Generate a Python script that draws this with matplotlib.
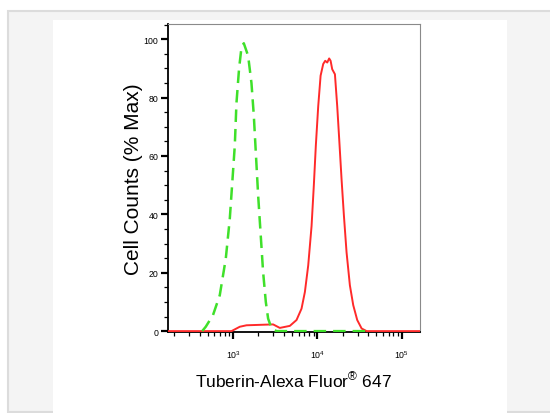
import matplotlib
matplotlib.use("Agg")
import matplotlib.pyplot as plt
from matplotlib.patches import Rectangle
from matplotlib.ticker import LogLocator, MultipleLocator, NullFormatter

plt.rcParams['font.family'] = ['Liberation Sans', 'DejaVu Sans']
plt.rcParams['mathtext.fontset'] = 'custom'
plt.rcParams['mathtext.rm'] = 'Liberation Sans'
plt.rcParams['mathtext.it'] = 'Liberation Sans:italic'
plt.rcParams['mathtext.bf'] = 'Liberation Sans:bold'

# control (isotype) histogram, green dashed
ctrl_x = [430, 474, 578, 695, 819, 914, 984, 1048, 1096, 1178, 1256, 1340,
          1508, 1652, 1762, 1862, 1983, 2115, 2270, 2445, 2604, 2856, 3273, 40000]
ctrl_y = [0, 1.5, 5.5, 12.3, 24.8, 38.5, 52, 63.6, 78, 90, 97, 98.6,
          94.3, 85, 73.8, 61, 46.5, 34, 20.3, 10, 4.3, 1, 0, 0]

# Tuberin stained sample, red solid
tub_x = [169, 957, 1201, 1443, 2987, 3586, 4714, 5657, 6487, 7109, 7786, 8532,
         9080, 9590, 10230, 10920, 11730, 12390, 13090, 13800, 14350, 15000,
         16150, 17200, 18150, 19360, 20640, 22190, 24300, 26630, 29700, 33500,
         38400, 165000]
tub_y = [0, 0, 1.5, 2, 2.3, 1.1, 1.8, 3.8, 7.7, 13.4, 22.5, 36,
         50, 63.6, 77, 87.5, 91.5, 92.6, 92, 93.4, 92.6, 89.7,
         88, 77, 65.8, 52, 39.6, 27, 15.7, 8.9, 3.8, 0.9,
         0, 0]

fig = plt.figure(figsize=(5.5, 4.14), dpi=100)
fig.patch.set_facecolor('white')

# page-like background panels
fig.patches.append(Rectangle((7.7 / 550, 1 - 413 / 414), 1.1, (413 - 12.3) / 414,
                             transform=fig.transFigure, facecolor='#f4f4f4',
                             edgecolor='#dcdcdc', linewidth=1.5, zorder=-2))
fig.patches.append(Rectangle((52.6 / 550, -0.05), (507 - 52.6) / 550, 0.05 + 1 - 20 / 414 - 0.003,
                             transform=fig.transFigure, facecolor='white',
                             edgecolor='none', zorder=-1))

ax = fig.add_axes([168 / 550, 1 - 333 / 414, (420 - 168) / 550, (333 - 25) / 414])
ax.set_zorder(5)
ax.set_facecolor('white')

ax.plot(tub_x, tub_y, color='#ff2a2a', linewidth=1.4, zorder=3)
ax.plot(ctrl_x, ctrl_y, color='#3fe02a', linewidth=1.8, linestyle=(0, (5, 2.8)), zorder=3)

ax.set_xscale('log')
ax.set_xlim(169, 165000)
ax.set_ylim(-0.3, 105.2)

ax.xaxis.set_major_locator(LogLocator(base=10, subs=(1.0,)))
ax.xaxis.set_minor_locator(LogLocator(base=10, subs=range(2, 10)))
ax.xaxis.set_minor_formatter(NullFormatter())
ax.set_xticks([1e3, 1e4, 1e5])
ax.yaxis.set_major_locator(MultipleLocator(20))
ax.yaxis.set_minor_locator(MultipleLocator(5))

ax.tick_params(axis='both', which='major', direction='out', length=5, width=1.6,
               labelsize=6.3, color='black')
ax.tick_params(axis='both', which='minor', direction='out', length=2.8, width=0.9,
               color='black')
ax.tick_params(axis='x', which='major', pad=6.5)
ax.tick_params(axis='y', which='major', pad=2)

for s in ['left', 'bottom']:
    ax.spines[s].set_color('black')
    ax.spines[s].set_linewidth(1.3)
for s in ['top', 'right']:
    ax.spines[s].set_color('#8a8a8a')
    ax.spines[s].set_linewidth(0.8)

ax.set_xlabel(r'Tuberin-Alexa Fluor$^{\mathrm{®}}$ 647', fontsize=12.5, va='center')
ax.xaxis.set_label_coords(0.5, -0.156)
ax.set_ylabel('Cell Counts (% Max)', fontsize=15, va='center')
ax.yaxis.set_label_coords(-0.135, 0.5)

fig.savefig('out.png', dpi=100, facecolor=fig.get_facecolor())
